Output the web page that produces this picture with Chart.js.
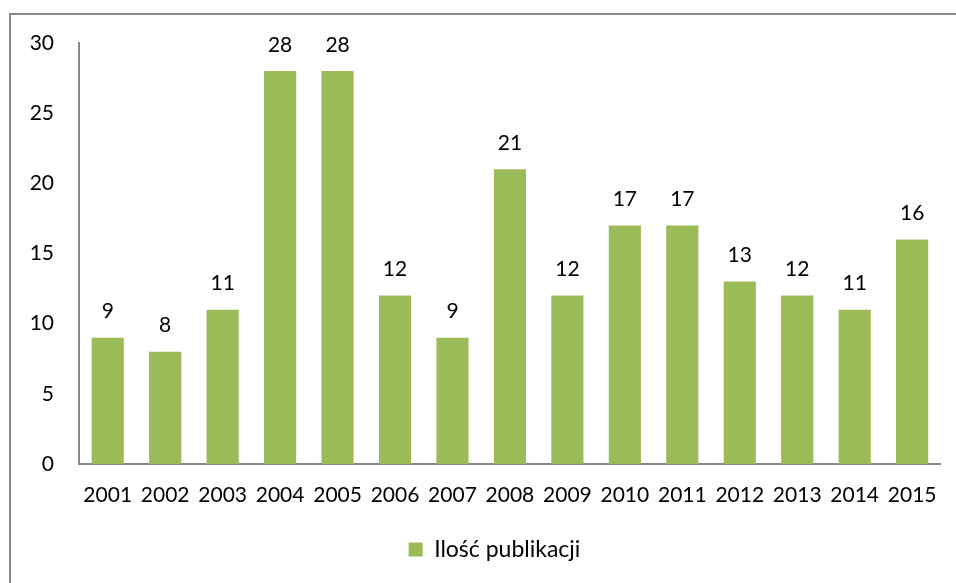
<!DOCTYPE html>
<html>
<head>
<meta charset="utf-8">
<script src="https://cdn.jsdelivr.net/npm/chart.js@4/dist/chart.umd.min.js"></script>
<style>
  html, body { margin: 0; padding: 0; background: #fff; }
  #wrap { position: relative; width: 956px; height: 583px; overflow: hidden; }
  #frame { position: absolute; left: 9px; top: 13px; width: 1000px; height: 700px;
           border-left: 2px solid #888; border-top: 2px solid #888; }
  canvas { position: absolute; left: 0; top: 0; }
</style>
</head>
<body>
<div id="wrap">
  <div id="frame"></div>
  <canvas id="chart" width="956" height="583"></canvas>
</div>
<script>
const years = ["2001", "2002", "2003", "2004", "2005", "2006", "2007", "2008",
               "2009", "2010", "2011", "2012", "2013", "2014", "2015"];
const publications = [9, 8, 11, 28, 28, 12, 9, 21, 12, 17, 17, 13, 12, 11, 16];
const seriesName = "Ilość publikacji";

const valueLabels = {
    id: "valueLabels",
    afterDatasetsDraw(chart) {
        const ctx = chart.ctx;
        const meta = chart.getDatasetMeta(0);
        ctx.save();
        ctx.font = "21px Lato";
        ctx.fillStyle = "#000";
        ctx.textAlign = "center";
        ctx.textBaseline = "middle";
        meta.data.forEach((bar, i) => {
            ctx.fillText(String(publications[i]), bar.x, bar.y - 26);
        });
        ctx.restore();
    }
};

// legend sits a bit right of centre in the original
const legendShift = {
    id: "legendShift",
    afterLayout(chart) {
        chart.legend.left += 24;
        chart.legend.right += 24;
    }
};

Chart.defaults.font.family = "Lato";
Chart.defaults.font.size = 21;
Chart.defaults.color = "#000";

new Chart(document.getElementById("chart"), {
    type: "bar",
    data: {
        labels: years,
        datasets: [{
            label: seriesName,
            data: publications,
            backgroundColor: "#9BBB59",
            categoryPercentage: 1,
            barPercentage: 0.56
        }]
    },
    options: {
        responsive: false,
        animation: false,
        layout: { padding: { top: 43, right: 15, left: 0, bottom: 12 } },
        scales: {
            x: {
                grid: { display: false, drawTicks: false },
                border: { display: true, color: "#888", width: 2 },
                ticks: { padding: 19, maxRotation: 0, autoSkip: false },
                afterFit: scale => { scale.height = 60; }
            },
            y: {
                min: 0,
                max: 30,
                grid: { display: false, drawTicks: false },
                border: { display: true, color: "#888", width: 2 },
                ticks: { stepSize: 5, padding: 25 },
                afterFit: scale => { scale.width = 79; }
            }
        },
        plugins: {
            legend: {
                position: "bottom",
                labels: { boxWidth: 14, boxHeight: 14, padding: 14, color: "#000",
                          font: { size: 23 } }
            },
            tooltip: { enabled: false }
        }
    },
    plugins: [valueLabels, legendShift]
});
</script>
</body>
</html>
